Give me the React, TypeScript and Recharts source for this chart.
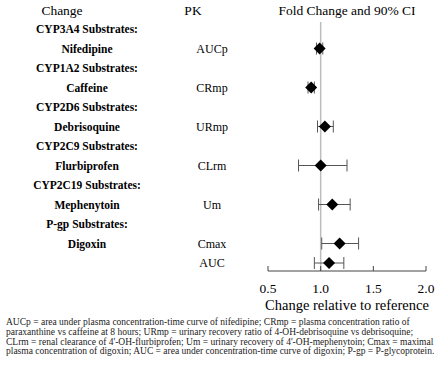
import React from "react";
import { ScatterChart, Scatter, XAxis, YAxis, ErrorBar, ReferenceLine } from "recharts";

const changeLabels = [
  "CYP3A4 Substrates:", "Nifedipine", "CYP1A2 Substrates:", "Caffeine",
  "CYP2D6 Substrates:", "Debrisoquine", "CYP2C9 Substrates:", "Flurbiprofen",
  "CYP2C19 Substrates:", "Mephenytoin", "P-gp Substrates:", "Digoxin", "",
];
const pkLabels = ["", "AUCp", "", "CRmp", "", "URmp", "", "CLrm", "", "Um", "", "Cmax", "AUC"];
const foldChange: (number | null)[] = [null, 0.99, null, 0.91, null, 1.04, null, 1.0, null, 1.11, null, 1.18, 1.08];
const lowerCI: (number | null)[] = [null, 0.96, null, 0.88, null, 0.97, null, 0.79, null, 0.98, null, 1.01, 0.94];
const upperCI: (number | null)[] = [null, 1.02, null, 0.94, null, 1.12, null, 1.25, null, 1.28, null, 1.36, 1.22];
const xTicks = [0.5, 1.0, 1.5, 2.0];
const headers = ["Change", "PK", "Fold Change and 90% CI"];
const footnoteLines = [
  "AUCp = area under plasma concentration-time curve of nifedipine; CRmp = plasma concentration ratio of",
  "paraxanthine vs caffeine at 8 hours; URmp = urinary recovery ratio of 4-OH-debrisoquine vs debrisoquine;",
  "CLrm = renal clearance of 4'-OH-flurbiprofen; Um = urinary recovery of 4'-OH-mephenytoin; Cmax = maximal",
  "plasma concentration of digoxin; AUC = area under concentration-time curve of digoxin; P-gp = P-glycoprotein.",
];

const rowIdx = changeLabels.map((_, i) => i);
const points = rowIdx
  .filter((i) => foldChange[i] !== null)
  .map((i) => ({
    row: i,
    value: foldChange[i] as number,
    err: [(foldChange[i] as number) - (lowerCI[i] as number), (upperCI[i] as number) - (foldChange[i] as number)],
  }));

const FONT = "Liberation Serif, DejaVu Serif, Times New Roman, Times, serif";

const Diamond = (props: any) => {
  const { cx, cy } = props;
  const h = 6;
  return <polygon points={`${cx},${cy - h} ${cx + h},${cy} ${cx},${cy + h} ${cx - h},${cy}`} fill="#000" />;
};

const YTick = (props: any) => {
  const { y, payload } = props;
  const i = payload.value as number;
  return (
    <g>
      <text x={87} y={y} dy={4} textAnchor="middle" style={{ fontFamily: FONT, fontSize: 11.5, fontWeight: "bold" }} fill="#000">
        {changeLabels[i]}
      </text>
      <text x={212} y={y} dy={4} textAnchor="middle" style={{ fontFamily: FONT, fontSize: 12 }} fill="#000">
        {pkLabels[i]}
      </text>
    </g>
  );
};

const XTick = (props: any) => {
  const { x, y, payload } = props;
  return (
    <g>
      <line x1={x} x2={x} y1={y} y2={y - 5} stroke="#444" strokeWidth={1} />
      <text x={x} y={y} dy={22} textAnchor="middle" style={{ fontFamily: FONT, fontSize: 13.5 }} fill="#000">
        {Number(payload.value).toFixed(1)}
      </text>
    </g>
  );
};

export default function App() {
  return (
    <div style={{ position: "absolute", left: 0, top: 0, width: 444, height: 373, background: "#fff", fontFamily: FONT }}>
      <div style={{ position: "absolute", top: 3, left: 0, width: 444, height: 18, fontSize: 13.5 }}>
        <span style={{ position: "absolute", left: 62, transform: "translateX(-50%)" }}>{headers[0]}</span>
        <span style={{ position: "absolute", left: 193, transform: "translateX(-50%)" }}>{headers[1]}</span>
        <span style={{ position: "absolute", left: 347, transform: "translateX(-50%)", whiteSpace: "nowrap" }}>{headers[2]}</span>
      </div>
      <ScatterChart width={444} height={318} margin={{ top: 22, right: 18, bottom: 0, left: 0 }}>
        <XAxis
          type="number"
          dataKey="value"
          domain={[0.5, 2.0]}
          ticks={xTicks}
          interval={0}
          height={47}
          tickSize={0}
          tickMargin={0}
          tickLine={false}
          axisLine={{ stroke: "#444", strokeWidth: 1 }}
          tick={<XTick />}
          label={{ value: "Change relative to reference", position: "insideBottom", offset: 8, style: { fontFamily: FONT, fontSize: 14.5 }, fill: "#000" }}
        />
        <YAxis
          type="number"
          dataKey="row"
          domain={[-0.36, 12.41]}
          reversed
          ticks={rowIdx}
          interval={0}
          width={268}
          axisLine={false}
          tickLine={false}
          tick={<YTick />}
          allowDataOverflow
        />
        <ReferenceLine x={1} stroke="#bdbdbd" strokeWidth={1.5} />
        <Scatter data={points} shape={<Diamond />} isAnimationActive={false}>
          <ErrorBar dataKey="err" direction="x" width={6} stroke="#555" strokeWidth={1} />
        </Scatter>
      </ScatterChart>
      <div style={{ position: "absolute", top: 318, left: 6, fontSize: 9.5, lineHeight: "9.8px", color: "#222", whiteSpace: "nowrap" }}>
        {footnoteLines.map((l, i) => (
          <div key={i}>{l}</div>
        ))}
      </div>
    </div>
  );
}
